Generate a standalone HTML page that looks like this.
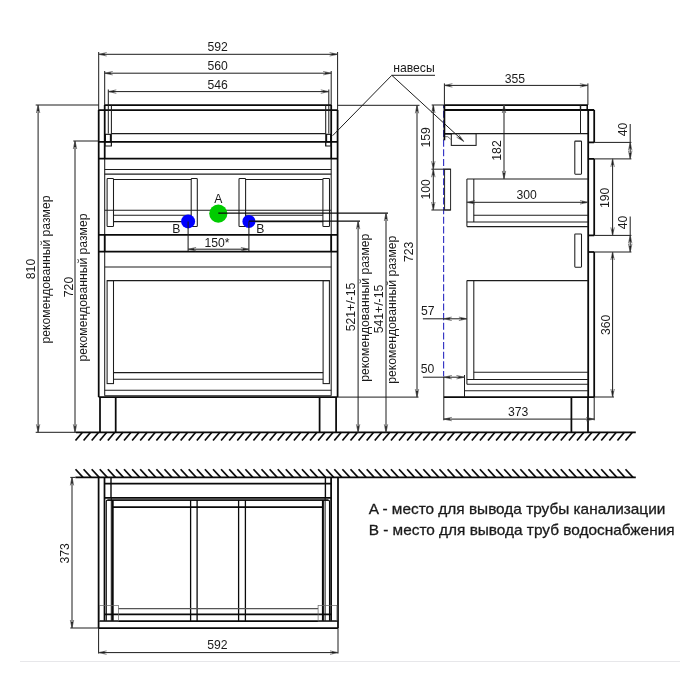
<!DOCTYPE html>
<html lang="ru"><head><meta charset="utf-8"><title>Схема</title>
<style>html,body{margin:0;padding:0;background:#fff}svg{display:block;will-change:transform}text{font-family:"Liberation Sans",sans-serif;fill:#1a1a1a}</style>
</head><body>
<svg width="700" height="700" viewBox="0 0 700 700">
<rect width="700" height="700" fill="#fff"/>
<line x1="20" y1="661.5" x2="680" y2="661.5" stroke="#e7e7ea" stroke-width="1"/>
<line x1="104.7" y1="105" x2="331.2" y2="105" stroke="#0a0a0a" stroke-width="1.75"/>
<line x1="98.7" y1="110" x2="337.6" y2="110" stroke="#0a0a0a" stroke-width="1.75"/>
<line x1="98.7" y1="110" x2="98.7" y2="397.1" stroke="#0a0a0a" stroke-width="1.75"/>
<line x1="337.6" y1="110" x2="337.6" y2="397.1" stroke="#0a0a0a" stroke-width="1.75"/>
<line x1="104.7" y1="105" x2="104.7" y2="158.6" stroke="#0a0a0a" stroke-width="1.75"/>
<line x1="331.2" y1="105" x2="331.2" y2="158.6" stroke="#0a0a0a" stroke-width="1.75"/>
<line x1="104.7" y1="158.6" x2="104.7" y2="395.7" stroke="#1c1c1c" stroke-width="1.05"/>
<line x1="331.2" y1="158.6" x2="331.2" y2="395.7" stroke="#1c1c1c" stroke-width="1.05"/>
<line x1="104.7" y1="234.8" x2="104.7" y2="251.5" stroke="#0a0a0a" stroke-width="1.75"/>
<line x1="331.2" y1="234.8" x2="331.2" y2="251.5" stroke="#0a0a0a" stroke-width="1.75"/>
<line x1="111.4" y1="105" x2="111.4" y2="146" stroke="#1c1c1c" stroke-width="1.05"/>
<line x1="325.7" y1="105" x2="325.7" y2="146" stroke="#1c1c1c" stroke-width="1.05"/>
<line x1="111.4" y1="133.6" x2="325.7" y2="133.6" stroke="#1c1c1c" stroke-width="1.05"/>
<rect x="105.4" y="134.3" width="5.0" height="7.3" fill="none" stroke="#0a0a0a" stroke-width="1.1"/>
<rect x="326.6" y="134.3" width="4.1" height="7.3" fill="none" stroke="#0a0a0a" stroke-width="1.1"/>
<rect x="105" y="141.9" width="6.4" height="4.1" fill="none" stroke="#1c1c1c" stroke-width="1.05"/>
<rect x="325.7" y="141.9" width="5.3" height="4.1" fill="none" stroke="#1c1c1c" stroke-width="1.05"/>
<line x1="98.7" y1="141.9" x2="337.6" y2="141.9" stroke="#0a0a0a" stroke-width="1.75"/>
<line x1="98.7" y1="158.6" x2="337.6" y2="158.6" stroke="#0a0a0a" stroke-width="1.75"/>
<line x1="104.7" y1="169.5" x2="331.2" y2="169.5" stroke="#1c1c1c" stroke-width="1.05"/>
<line x1="104.7" y1="174.1" x2="331.2" y2="174.1" stroke="#1c1c1c" stroke-width="1.05"/>
<rect x="107.1" y="178.4" width="6.4" height="48.1" fill="none" stroke="#1c1c1c" stroke-width="1.05" rx="0.8"/>
<rect x="191.2" y="178.4" width="6.1" height="48.1" fill="none" stroke="#1c1c1c" stroke-width="1.05" rx="0.8"/>
<line x1="113.5" y1="179.5" x2="191.2" y2="179.5" stroke="#1c1c1c" stroke-width="1.05"/>
<line x1="113.5" y1="215.2" x2="191.2" y2="215.2" stroke="#1c1c1c" stroke-width="1.05"/>
<line x1="113.5" y1="221.6" x2="191.2" y2="221.6" stroke="#1c1c1c" stroke-width="1.05"/>
<rect x="239" y="178.4" width="6.6" height="48.1" fill="none" stroke="#1c1c1c" stroke-width="1.05" rx="0.8"/>
<rect x="322.9" y="178.4" width="6.6" height="48.1" fill="none" stroke="#1c1c1c" stroke-width="1.05" rx="0.8"/>
<line x1="245.6" y1="179.5" x2="322.9" y2="179.5" stroke="#1c1c1c" stroke-width="1.05"/>
<line x1="245.6" y1="215.2" x2="322.9" y2="215.2" stroke="#1c1c1c" stroke-width="1.05"/>
<line x1="245.6" y1="221.6" x2="322.9" y2="221.6" stroke="#1c1c1c" stroke-width="1.05"/>
<line x1="104.7" y1="210.3" x2="331.2" y2="210.3" stroke="#1c1c1c" stroke-width="1.05"/>
<line x1="98.7" y1="234.8" x2="337.6" y2="234.8" stroke="#0a0a0a" stroke-width="1.75"/>
<line x1="98.7" y1="251.5" x2="337.6" y2="251.5" stroke="#0a0a0a" stroke-width="1.75"/>
<line x1="104.7" y1="266.9" x2="331.2" y2="266.9" stroke="#1c1c1c" stroke-width="1.05"/>
<line x1="107.1" y1="280.6" x2="329.4" y2="280.6" stroke="#1c1c1c" stroke-width="1.05"/>
<rect x="107.1" y="280.6" width="6.4" height="103.0" fill="none" stroke="#1c1c1c" stroke-width="1.05"/>
<rect x="323.1" y="280.6" width="6.3" height="103.0" fill="none" stroke="#1c1c1c" stroke-width="1.05"/>
<line x1="113.5" y1="372.6" x2="323.1" y2="372.6" stroke="#1c1c1c" stroke-width="1.05"/>
<line x1="113.5" y1="379.3" x2="323.1" y2="379.3" stroke="#1c1c1c" stroke-width="1.05"/>
<line x1="104.7" y1="390.3" x2="331.2" y2="390.3" stroke="#1c1c1c" stroke-width="1.05"/>
<line x1="104.7" y1="395.7" x2="331.2" y2="395.7" stroke="#1c1c1c" stroke-width="1.05"/>
<line x1="98.7" y1="397" x2="337.6" y2="397" stroke="#0a0a0a" stroke-width="1.75"/>
<line x1="100" y1="397" x2="100" y2="432.3" stroke="#0a0a0a" stroke-width="1.75"/>
<line x1="115.7" y1="397" x2="115.7" y2="432.3" stroke="#0a0a0a" stroke-width="1.75"/>
<line x1="319.6" y1="397" x2="319.6" y2="432.3" stroke="#0a0a0a" stroke-width="1.75"/>
<line x1="336.1" y1="397" x2="336.1" y2="432.3" stroke="#0a0a0a" stroke-width="1.75"/>
<line x1="35.7" y1="432.3" x2="76" y2="432.3" stroke="#1c1c1c" stroke-width="1.0"/>
<line x1="76" y1="432.3" x2="635.8" y2="432.3" stroke="#0a0a0a" stroke-width="1.75"/>
<line x1="82.5" y1="432.3" x2="75.5" y2="440.5" stroke="#0a0a0a" stroke-width="1.7"/>
<line x1="90.59" y1="432.3" x2="83.59" y2="440.5" stroke="#0a0a0a" stroke-width="1.7"/>
<line x1="98.68" y1="432.3" x2="91.68" y2="440.5" stroke="#0a0a0a" stroke-width="1.7"/>
<line x1="106.76" y1="432.3" x2="99.76" y2="440.5" stroke="#0a0a0a" stroke-width="1.7"/>
<line x1="114.85" y1="432.3" x2="107.85" y2="440.5" stroke="#0a0a0a" stroke-width="1.7"/>
<line x1="122.94" y1="432.3" x2="115.94" y2="440.5" stroke="#0a0a0a" stroke-width="1.7"/>
<line x1="131.03" y1="432.3" x2="124.03" y2="440.5" stroke="#0a0a0a" stroke-width="1.7"/>
<line x1="139.12" y1="432.3" x2="132.12" y2="440.5" stroke="#0a0a0a" stroke-width="1.7"/>
<line x1="147.2" y1="432.3" x2="140.2" y2="440.5" stroke="#0a0a0a" stroke-width="1.7"/>
<line x1="155.29" y1="432.3" x2="148.29" y2="440.5" stroke="#0a0a0a" stroke-width="1.7"/>
<line x1="163.38" y1="432.3" x2="156.38" y2="440.5" stroke="#0a0a0a" stroke-width="1.7"/>
<line x1="171.47" y1="432.3" x2="164.47" y2="440.5" stroke="#0a0a0a" stroke-width="1.7"/>
<line x1="179.56" y1="432.3" x2="172.56" y2="440.5" stroke="#0a0a0a" stroke-width="1.7"/>
<line x1="187.64" y1="432.3" x2="180.64" y2="440.5" stroke="#0a0a0a" stroke-width="1.7"/>
<line x1="195.73" y1="432.3" x2="188.73" y2="440.5" stroke="#0a0a0a" stroke-width="1.7"/>
<line x1="203.82" y1="432.3" x2="196.82" y2="440.5" stroke="#0a0a0a" stroke-width="1.7"/>
<line x1="211.91" y1="432.3" x2="204.91" y2="440.5" stroke="#0a0a0a" stroke-width="1.7"/>
<line x1="220.0" y1="432.3" x2="213.0" y2="440.5" stroke="#0a0a0a" stroke-width="1.7"/>
<line x1="228.08" y1="432.3" x2="221.08" y2="440.5" stroke="#0a0a0a" stroke-width="1.7"/>
<line x1="236.17" y1="432.3" x2="229.17" y2="440.5" stroke="#0a0a0a" stroke-width="1.7"/>
<line x1="244.26" y1="432.3" x2="237.26" y2="440.5" stroke="#0a0a0a" stroke-width="1.7"/>
<line x1="252.35" y1="432.3" x2="245.35" y2="440.5" stroke="#0a0a0a" stroke-width="1.7"/>
<line x1="260.44" y1="432.3" x2="253.44" y2="440.5" stroke="#0a0a0a" stroke-width="1.7"/>
<line x1="268.52" y1="432.3" x2="261.52" y2="440.5" stroke="#0a0a0a" stroke-width="1.7"/>
<line x1="276.61" y1="432.3" x2="269.61" y2="440.5" stroke="#0a0a0a" stroke-width="1.7"/>
<line x1="284.7" y1="432.3" x2="277.7" y2="440.5" stroke="#0a0a0a" stroke-width="1.7"/>
<line x1="292.79" y1="432.3" x2="285.79" y2="440.5" stroke="#0a0a0a" stroke-width="1.7"/>
<line x1="300.88" y1="432.3" x2="293.88" y2="440.5" stroke="#0a0a0a" stroke-width="1.7"/>
<line x1="308.96" y1="432.3" x2="301.96" y2="440.5" stroke="#0a0a0a" stroke-width="1.7"/>
<line x1="317.05" y1="432.3" x2="310.05" y2="440.5" stroke="#0a0a0a" stroke-width="1.7"/>
<line x1="325.14" y1="432.3" x2="318.14" y2="440.5" stroke="#0a0a0a" stroke-width="1.7"/>
<line x1="333.23" y1="432.3" x2="326.23" y2="440.5" stroke="#0a0a0a" stroke-width="1.7"/>
<line x1="341.32" y1="432.3" x2="334.32" y2="440.5" stroke="#0a0a0a" stroke-width="1.7"/>
<line x1="349.4" y1="432.3" x2="342.4" y2="440.5" stroke="#0a0a0a" stroke-width="1.7"/>
<line x1="357.49" y1="432.3" x2="350.49" y2="440.5" stroke="#0a0a0a" stroke-width="1.7"/>
<line x1="365.58" y1="432.3" x2="358.58" y2="440.5" stroke="#0a0a0a" stroke-width="1.7"/>
<line x1="373.67" y1="432.3" x2="366.67" y2="440.5" stroke="#0a0a0a" stroke-width="1.7"/>
<line x1="381.76" y1="432.3" x2="374.76" y2="440.5" stroke="#0a0a0a" stroke-width="1.7"/>
<line x1="389.84" y1="432.3" x2="382.84" y2="440.5" stroke="#0a0a0a" stroke-width="1.7"/>
<line x1="397.93" y1="432.3" x2="390.93" y2="440.5" stroke="#0a0a0a" stroke-width="1.7"/>
<line x1="406.02" y1="432.3" x2="399.02" y2="440.5" stroke="#0a0a0a" stroke-width="1.7"/>
<line x1="414.11" y1="432.3" x2="407.11" y2="440.5" stroke="#0a0a0a" stroke-width="1.7"/>
<line x1="422.2" y1="432.3" x2="415.2" y2="440.5" stroke="#0a0a0a" stroke-width="1.7"/>
<line x1="430.28" y1="432.3" x2="423.28" y2="440.5" stroke="#0a0a0a" stroke-width="1.7"/>
<line x1="438.37" y1="432.3" x2="431.37" y2="440.5" stroke="#0a0a0a" stroke-width="1.7"/>
<line x1="446.46" y1="432.3" x2="439.46" y2="440.5" stroke="#0a0a0a" stroke-width="1.7"/>
<line x1="454.55" y1="432.3" x2="447.55" y2="440.5" stroke="#0a0a0a" stroke-width="1.7"/>
<line x1="462.64" y1="432.3" x2="455.64" y2="440.5" stroke="#0a0a0a" stroke-width="1.7"/>
<line x1="470.72" y1="432.3" x2="463.72" y2="440.5" stroke="#0a0a0a" stroke-width="1.7"/>
<line x1="478.81" y1="432.3" x2="471.81" y2="440.5" stroke="#0a0a0a" stroke-width="1.7"/>
<line x1="486.9" y1="432.3" x2="479.9" y2="440.5" stroke="#0a0a0a" stroke-width="1.7"/>
<line x1="494.99" y1="432.3" x2="487.99" y2="440.5" stroke="#0a0a0a" stroke-width="1.7"/>
<line x1="503.08" y1="432.3" x2="496.08" y2="440.5" stroke="#0a0a0a" stroke-width="1.7"/>
<line x1="511.16" y1="432.3" x2="504.16" y2="440.5" stroke="#0a0a0a" stroke-width="1.7"/>
<line x1="519.25" y1="432.3" x2="512.25" y2="440.5" stroke="#0a0a0a" stroke-width="1.7"/>
<line x1="527.34" y1="432.3" x2="520.34" y2="440.5" stroke="#0a0a0a" stroke-width="1.7"/>
<line x1="535.43" y1="432.3" x2="528.43" y2="440.5" stroke="#0a0a0a" stroke-width="1.7"/>
<line x1="543.52" y1="432.3" x2="536.52" y2="440.5" stroke="#0a0a0a" stroke-width="1.7"/>
<line x1="551.6" y1="432.3" x2="544.6" y2="440.5" stroke="#0a0a0a" stroke-width="1.7"/>
<line x1="559.69" y1="432.3" x2="552.69" y2="440.5" stroke="#0a0a0a" stroke-width="1.7"/>
<line x1="567.78" y1="432.3" x2="560.78" y2="440.5" stroke="#0a0a0a" stroke-width="1.7"/>
<line x1="575.87" y1="432.3" x2="568.87" y2="440.5" stroke="#0a0a0a" stroke-width="1.7"/>
<line x1="583.96" y1="432.3" x2="576.96" y2="440.5" stroke="#0a0a0a" stroke-width="1.7"/>
<line x1="592.04" y1="432.3" x2="585.04" y2="440.5" stroke="#0a0a0a" stroke-width="1.7"/>
<line x1="600.13" y1="432.3" x2="593.13" y2="440.5" stroke="#0a0a0a" stroke-width="1.7"/>
<line x1="608.22" y1="432.3" x2="601.22" y2="440.5" stroke="#0a0a0a" stroke-width="1.7"/>
<line x1="616.31" y1="432.3" x2="609.31" y2="440.5" stroke="#0a0a0a" stroke-width="1.7"/>
<line x1="624.4" y1="432.3" x2="617.4" y2="440.5" stroke="#0a0a0a" stroke-width="1.7"/>
<line x1="632.48" y1="432.3" x2="625.48" y2="440.5" stroke="#0a0a0a" stroke-width="1.7"/>
<line x1="70.3" y1="477.4" x2="75.4" y2="477.4" stroke="#1c1c1c" stroke-width="1.0"/>
<line x1="75.4" y1="477.4" x2="635.8" y2="477.4" stroke="#0a0a0a" stroke-width="1.75"/>
<line x1="75.5" y1="469.2" x2="83.0" y2="477.4" stroke="#0a0a0a" stroke-width="1.7"/>
<line x1="83.59" y1="469.2" x2="91.09" y2="477.4" stroke="#0a0a0a" stroke-width="1.7"/>
<line x1="91.68" y1="469.2" x2="99.18" y2="477.4" stroke="#0a0a0a" stroke-width="1.7"/>
<line x1="99.76" y1="469.2" x2="107.26" y2="477.4" stroke="#0a0a0a" stroke-width="1.7"/>
<line x1="107.85" y1="469.2" x2="115.35" y2="477.4" stroke="#0a0a0a" stroke-width="1.7"/>
<line x1="115.94" y1="469.2" x2="123.44" y2="477.4" stroke="#0a0a0a" stroke-width="1.7"/>
<line x1="124.03" y1="469.2" x2="131.53" y2="477.4" stroke="#0a0a0a" stroke-width="1.7"/>
<line x1="132.12" y1="469.2" x2="139.62" y2="477.4" stroke="#0a0a0a" stroke-width="1.7"/>
<line x1="140.2" y1="469.2" x2="147.7" y2="477.4" stroke="#0a0a0a" stroke-width="1.7"/>
<line x1="148.29" y1="469.2" x2="155.79" y2="477.4" stroke="#0a0a0a" stroke-width="1.7"/>
<line x1="156.38" y1="469.2" x2="163.88" y2="477.4" stroke="#0a0a0a" stroke-width="1.7"/>
<line x1="164.47" y1="469.2" x2="171.97" y2="477.4" stroke="#0a0a0a" stroke-width="1.7"/>
<line x1="172.56" y1="469.2" x2="180.06" y2="477.4" stroke="#0a0a0a" stroke-width="1.7"/>
<line x1="180.64" y1="469.2" x2="188.14" y2="477.4" stroke="#0a0a0a" stroke-width="1.7"/>
<line x1="188.73" y1="469.2" x2="196.23" y2="477.4" stroke="#0a0a0a" stroke-width="1.7"/>
<line x1="196.82" y1="469.2" x2="204.32" y2="477.4" stroke="#0a0a0a" stroke-width="1.7"/>
<line x1="204.91" y1="469.2" x2="212.41" y2="477.4" stroke="#0a0a0a" stroke-width="1.7"/>
<line x1="213.0" y1="469.2" x2="220.5" y2="477.4" stroke="#0a0a0a" stroke-width="1.7"/>
<line x1="221.08" y1="469.2" x2="228.58" y2="477.4" stroke="#0a0a0a" stroke-width="1.7"/>
<line x1="229.17" y1="469.2" x2="236.67" y2="477.4" stroke="#0a0a0a" stroke-width="1.7"/>
<line x1="237.26" y1="469.2" x2="244.76" y2="477.4" stroke="#0a0a0a" stroke-width="1.7"/>
<line x1="245.35" y1="469.2" x2="252.85" y2="477.4" stroke="#0a0a0a" stroke-width="1.7"/>
<line x1="253.44" y1="469.2" x2="260.94" y2="477.4" stroke="#0a0a0a" stroke-width="1.7"/>
<line x1="261.52" y1="469.2" x2="269.02" y2="477.4" stroke="#0a0a0a" stroke-width="1.7"/>
<line x1="269.61" y1="469.2" x2="277.11" y2="477.4" stroke="#0a0a0a" stroke-width="1.7"/>
<line x1="277.7" y1="469.2" x2="285.2" y2="477.4" stroke="#0a0a0a" stroke-width="1.7"/>
<line x1="285.79" y1="469.2" x2="293.29" y2="477.4" stroke="#0a0a0a" stroke-width="1.7"/>
<line x1="293.88" y1="469.2" x2="301.38" y2="477.4" stroke="#0a0a0a" stroke-width="1.7"/>
<line x1="301.96" y1="469.2" x2="309.46" y2="477.4" stroke="#0a0a0a" stroke-width="1.7"/>
<line x1="310.05" y1="469.2" x2="317.55" y2="477.4" stroke="#0a0a0a" stroke-width="1.7"/>
<line x1="318.14" y1="469.2" x2="325.64" y2="477.4" stroke="#0a0a0a" stroke-width="1.7"/>
<line x1="326.23" y1="469.2" x2="333.73" y2="477.4" stroke="#0a0a0a" stroke-width="1.7"/>
<line x1="334.32" y1="469.2" x2="341.82" y2="477.4" stroke="#0a0a0a" stroke-width="1.7"/>
<line x1="342.4" y1="469.2" x2="349.9" y2="477.4" stroke="#0a0a0a" stroke-width="1.7"/>
<line x1="350.49" y1="469.2" x2="357.99" y2="477.4" stroke="#0a0a0a" stroke-width="1.7"/>
<line x1="358.58" y1="469.2" x2="366.08" y2="477.4" stroke="#0a0a0a" stroke-width="1.7"/>
<line x1="366.67" y1="469.2" x2="374.17" y2="477.4" stroke="#0a0a0a" stroke-width="1.7"/>
<line x1="374.76" y1="469.2" x2="382.26" y2="477.4" stroke="#0a0a0a" stroke-width="1.7"/>
<line x1="382.84" y1="469.2" x2="390.34" y2="477.4" stroke="#0a0a0a" stroke-width="1.7"/>
<line x1="390.93" y1="469.2" x2="398.43" y2="477.4" stroke="#0a0a0a" stroke-width="1.7"/>
<line x1="399.02" y1="469.2" x2="406.52" y2="477.4" stroke="#0a0a0a" stroke-width="1.7"/>
<line x1="407.11" y1="469.2" x2="414.61" y2="477.4" stroke="#0a0a0a" stroke-width="1.7"/>
<line x1="415.2" y1="469.2" x2="422.7" y2="477.4" stroke="#0a0a0a" stroke-width="1.7"/>
<line x1="423.28" y1="469.2" x2="430.78" y2="477.4" stroke="#0a0a0a" stroke-width="1.7"/>
<line x1="431.37" y1="469.2" x2="438.87" y2="477.4" stroke="#0a0a0a" stroke-width="1.7"/>
<line x1="439.46" y1="469.2" x2="446.96" y2="477.4" stroke="#0a0a0a" stroke-width="1.7"/>
<line x1="447.55" y1="469.2" x2="455.05" y2="477.4" stroke="#0a0a0a" stroke-width="1.7"/>
<line x1="455.64" y1="469.2" x2="463.14" y2="477.4" stroke="#0a0a0a" stroke-width="1.7"/>
<line x1="463.72" y1="469.2" x2="471.22" y2="477.4" stroke="#0a0a0a" stroke-width="1.7"/>
<line x1="471.81" y1="469.2" x2="479.31" y2="477.4" stroke="#0a0a0a" stroke-width="1.7"/>
<line x1="479.9" y1="469.2" x2="487.4" y2="477.4" stroke="#0a0a0a" stroke-width="1.7"/>
<line x1="487.99" y1="469.2" x2="495.49" y2="477.4" stroke="#0a0a0a" stroke-width="1.7"/>
<line x1="496.08" y1="469.2" x2="503.58" y2="477.4" stroke="#0a0a0a" stroke-width="1.7"/>
<line x1="504.16" y1="469.2" x2="511.66" y2="477.4" stroke="#0a0a0a" stroke-width="1.7"/>
<line x1="512.25" y1="469.2" x2="519.75" y2="477.4" stroke="#0a0a0a" stroke-width="1.7"/>
<line x1="520.34" y1="469.2" x2="527.84" y2="477.4" stroke="#0a0a0a" stroke-width="1.7"/>
<line x1="528.43" y1="469.2" x2="535.93" y2="477.4" stroke="#0a0a0a" stroke-width="1.7"/>
<line x1="536.52" y1="469.2" x2="544.02" y2="477.4" stroke="#0a0a0a" stroke-width="1.7"/>
<line x1="544.6" y1="469.2" x2="552.1" y2="477.4" stroke="#0a0a0a" stroke-width="1.7"/>
<line x1="552.69" y1="469.2" x2="560.19" y2="477.4" stroke="#0a0a0a" stroke-width="1.7"/>
<line x1="560.78" y1="469.2" x2="568.28" y2="477.4" stroke="#0a0a0a" stroke-width="1.7"/>
<line x1="568.87" y1="469.2" x2="576.37" y2="477.4" stroke="#0a0a0a" stroke-width="1.7"/>
<line x1="576.96" y1="469.2" x2="584.46" y2="477.4" stroke="#0a0a0a" stroke-width="1.7"/>
<line x1="585.04" y1="469.2" x2="592.54" y2="477.4" stroke="#0a0a0a" stroke-width="1.7"/>
<line x1="593.13" y1="469.2" x2="600.63" y2="477.4" stroke="#0a0a0a" stroke-width="1.7"/>
<line x1="601.22" y1="469.2" x2="608.72" y2="477.4" stroke="#0a0a0a" stroke-width="1.7"/>
<line x1="609.31" y1="469.2" x2="616.81" y2="477.4" stroke="#0a0a0a" stroke-width="1.7"/>
<line x1="617.4" y1="469.2" x2="624.9" y2="477.4" stroke="#0a0a0a" stroke-width="1.7"/>
<line x1="625.48" y1="469.2" x2="632.98" y2="477.4" stroke="#0a0a0a" stroke-width="1.7"/>
<circle cx="188.1" cy="221.4" r="7" fill="#0000ff"/>
<circle cx="218.3" cy="213.6" r="9.1" fill="#00cc00"/>
<circle cx="248.9" cy="221.4" r="6.5" fill="#0000ff"/>
<line x1="188.1" y1="221.4" x2="188.1" y2="251" stroke="#1c1c1c" stroke-width="1.05"/>
<line x1="248.9" y1="221.4" x2="248.9" y2="251" stroke="#1c1c1c" stroke-width="1.05"/>
<line x1="188.1" y1="249.2" x2="248.9" y2="249.2" stroke="#1c1c1c" stroke-width="1.0"/>
<path d="M196.1 247.5L188.1 249.2L196.1 250.9" fill="none" stroke="#444" stroke-width="0.7"/>
<path d="M194.1 248.2L189.3 249.2L194.1 250.2Z" fill="#1c1c1c"/>
<path d="M240.9 250.9L248.9 249.2L240.9 247.5" fill="none" stroke="#444" stroke-width="0.7"/>
<path d="M242.9 250.2L247.7 249.2L242.9 248.2Z" fill="#1c1c1c"/>
<line x1="218.3" y1="213.1" x2="388" y2="213.1" stroke="#0a0a0a" stroke-width="1.15"/>
<line x1="248.9" y1="221.2" x2="360" y2="221.2" stroke="#0a0a0a" stroke-width="1.2"/>
<text x="218.2" y="202.5" font-size="12.2" text-anchor="middle">A</text>
<text x="176.2" y="233.1" font-size="12.2" text-anchor="middle">B</text>
<text x="260.3" y="233.1" font-size="12.2" text-anchor="middle">B</text>
<text x="217" y="246.5" font-size="12.2" text-anchor="middle">150*</text>
<line x1="98.7" y1="52" x2="98.7" y2="110" stroke="#1c1c1c" stroke-width="1.0"/>
<line x1="337.6" y1="52" x2="337.6" y2="110" stroke="#1c1c1c" stroke-width="1.0"/>
<line x1="98.7" y1="54.3" x2="337.6" y2="54.3" stroke="#1c1c1c" stroke-width="1.0"/>
<path d="M106.7 52.6L98.7 54.3L106.7 56.0" fill="none" stroke="#444" stroke-width="0.7"/>
<path d="M104.7 53.3L99.9 54.3L104.7 55.3Z" fill="#1c1c1c"/>
<path d="M329.6 56.0L337.6 54.3L329.6 52.6" fill="none" stroke="#444" stroke-width="0.7"/>
<path d="M331.6 55.3L336.4 54.3L331.6 53.3Z" fill="#1c1c1c"/>
<text x="217.6" y="51.2" font-size="12.2" text-anchor="middle">592</text>
<line x1="104.7" y1="71" x2="104.7" y2="105" stroke="#1c1c1c" stroke-width="1.0"/>
<line x1="331.2" y1="71" x2="331.2" y2="105" stroke="#1c1c1c" stroke-width="1.0"/>
<line x1="104.7" y1="73.2" x2="331.2" y2="73.2" stroke="#1c1c1c" stroke-width="1.0"/>
<path d="M112.7 71.5L104.7 73.2L112.7 74.9" fill="none" stroke="#444" stroke-width="0.7"/>
<path d="M110.7 72.2L105.9 73.2L110.7 74.2Z" fill="#1c1c1c"/>
<path d="M323.2 74.9L331.2 73.2L323.2 71.5" fill="none" stroke="#444" stroke-width="0.7"/>
<path d="M325.2 74.2L330.0 73.2L325.2 72.2Z" fill="#1c1c1c"/>
<text x="217.6" y="70" font-size="12.2" text-anchor="middle">560</text>
<line x1="108.3" y1="89.5" x2="108.3" y2="133.6" stroke="#1c1c1c" stroke-width="1.0"/>
<line x1="328.8" y1="89.5" x2="328.8" y2="133.6" stroke="#1c1c1c" stroke-width="1.0"/>
<line x1="108.3" y1="91.6" x2="328.8" y2="91.6" stroke="#1c1c1c" stroke-width="1.0"/>
<path d="M116.3 89.9L108.3 91.6L116.3 93.3" fill="none" stroke="#444" stroke-width="0.7"/>
<path d="M114.3 90.6L109.5 91.6L114.3 92.6Z" fill="#1c1c1c"/>
<path d="M320.8 93.3L328.8 91.6L320.8 89.9" fill="none" stroke="#444" stroke-width="0.7"/>
<path d="M322.8 92.6L327.6 91.6L322.8 90.6Z" fill="#1c1c1c"/>
<text x="217.6" y="88.7" font-size="12.2" text-anchor="middle">546</text>
<line x1="35.7" y1="105" x2="98.7" y2="105" stroke="#1c1c1c" stroke-width="1.0"/>
<line x1="38.1" y1="105" x2="38.1" y2="432.3" stroke="#1c1c1c" stroke-width="1.0"/>
<path d="M39.8 113.0L38.1 105L36.4 113.0" fill="none" stroke="#444" stroke-width="0.7"/>
<path d="M39.1 111.0L38.1 106.2L37.1 111.0Z" fill="#1c1c1c"/>
<path d="M36.4 424.3L38.1 432.3L39.8 424.3" fill="none" stroke="#444" stroke-width="0.7"/>
<path d="M37.1 426.3L38.1 431.1L39.1 426.3Z" fill="#1c1c1c"/>
<line x1="73.3" y1="141" x2="98.7" y2="141" stroke="#1c1c1c" stroke-width="1.0"/>
<line x1="75" y1="141" x2="75" y2="432.3" stroke="#1c1c1c" stroke-width="1.0"/>
<path d="M76.7 149.0L75 141L73.3 149.0" fill="none" stroke="#444" stroke-width="0.7"/>
<path d="M76.0 147.0L75.0 142.2L74.0 147.0Z" fill="#1c1c1c"/>
<path d="M73.3 424.3L75 432.3L76.7 424.3" fill="none" stroke="#444" stroke-width="0.7"/>
<path d="M74.0 426.3L75.0 431.1L76.0 426.3Z" fill="#1c1c1c"/>
<text transform="translate(35.3 269) rotate(-90)" font-size="12.2" text-anchor="middle">810</text>
<text transform="translate(49.7 269.5) rotate(-90)" font-size="12.2" text-anchor="middle">рекомендованный размер</text>
<text transform="translate(72.5 287) rotate(-90)" font-size="12.2" text-anchor="middle">720</text>
<text transform="translate(86.6 287.5) rotate(-90)" font-size="12.2" text-anchor="middle">рекомендованный размер</text>
<line x1="358.1" y1="221.2" x2="358.1" y2="432.3" stroke="#1c1c1c" stroke-width="1.0"/>
<path d="M359.8 229.2L358.1 221.2L356.4 229.2" fill="none" stroke="#444" stroke-width="0.7"/>
<path d="M359.1 227.2L358.1 222.4L357.1 227.2Z" fill="#1c1c1c"/>
<path d="M356.4 424.3L358.1 432.3L359.8 424.3" fill="none" stroke="#444" stroke-width="0.7"/>
<path d="M357.1 426.3L358.1 431.1L359.1 426.3Z" fill="#1c1c1c"/>
<line x1="386" y1="213" x2="386" y2="432.3" stroke="#1c1c1c" stroke-width="1.0"/>
<path d="M387.7 221.0L386 213L384.3 221.0" fill="none" stroke="#444" stroke-width="0.7"/>
<path d="M387.0 219.0L386.0 214.2L385.0 219.0Z" fill="#1c1c1c"/>
<path d="M384.3 424.3L386 432.3L387.7 424.3" fill="none" stroke="#444" stroke-width="0.7"/>
<path d="M385.0 426.3L386.0 431.1L387.0 426.3Z" fill="#1c1c1c"/>
<text transform="translate(355 307) rotate(-90)" font-size="12.2" text-anchor="middle">521+/-15</text>
<text transform="translate(369 307.7) rotate(-90)" font-size="12.2" text-anchor="middle">рекомендованный размер</text>
<text transform="translate(383 309) rotate(-90)" font-size="12.2" text-anchor="middle">541+/-15</text>
<text transform="translate(396.4 309.7) rotate(-90)" font-size="12.2" text-anchor="middle">рекомендованный размер</text>
<line x1="337.6" y1="105.3" x2="419.5" y2="105.3" stroke="#1c1c1c" stroke-width="1.0"/>
<line x1="337.6" y1="397.1" x2="418.5" y2="397.1" stroke="#1c1c1c" stroke-width="1.0"/>
<line x1="417" y1="105.3" x2="417" y2="397.1" stroke="#1c1c1c" stroke-width="1.0"/>
<path d="M418.7 113.3L417 105.3L415.3 113.3" fill="none" stroke="#444" stroke-width="0.7"/>
<path d="M418.0 111.3L417.0 106.5L416.0 111.3Z" fill="#1c1c1c"/>
<path d="M415.3 389.1L417 397.1L418.7 389.1" fill="none" stroke="#444" stroke-width="0.7"/>
<path d="M416.0 391.1L417.0 395.9L418.0 391.1Z" fill="#1c1c1c"/>
<text transform="translate(413.3 251.8) rotate(-90)" font-size="12.2" text-anchor="middle">723</text>
<text x="393.2" y="72.4" font-size="12.2" text-anchor="start">навесы</text>
<line x1="391.8" y1="75.3" x2="435" y2="75.3" stroke="#1c1c1c" stroke-width="1.0"/>
<line x1="391.8" y1="75.3" x2="332.6" y2="135.7" stroke="#1c1c1c" stroke-width="1.0"/>
<line x1="391.8" y1="75.3" x2="463.6" y2="141.3" stroke="#1c1c1c" stroke-width="1.0"/>
<path d="M456.56 137.14L463.6 141.3L458.86 134.63" fill="none" stroke="#444" stroke-width="0.7"/>
<path d="M458.51 137.98L462.72 140.49L459.86 136.5Z" fill="#1c1c1c"/>
<line x1="443.6" y1="105" x2="443.6" y2="376.4" stroke="#3434c4" stroke-width="1.15" stroke-dasharray="7.1 2.54" stroke-dashoffset="3.96"/>
<line x1="444.4" y1="105" x2="587.9" y2="105" stroke="#0a0a0a" stroke-width="1.75"/>
<line x1="444.4" y1="110" x2="594.2" y2="110" stroke="#0a0a0a" stroke-width="1.8"/>
<line x1="444.4" y1="105" x2="444.4" y2="140.3" stroke="#0a0a0a" stroke-width="1.75"/>
<path d="M445 136.7H447.8L450.6 139.2" fill="none" stroke="#444" stroke-width="0.8"/>
<line x1="444.4" y1="133.6" x2="588" y2="133.6" stroke="#1c1c1c" stroke-width="1.05"/>
<line x1="444.4" y1="133.9" x2="451.3" y2="133.9" stroke="#0a0a0a" stroke-width="1.4"/>
<rect x="451.3" y="133.6" width="24.8" height="11.8" fill="none" stroke="#1c1c1c" stroke-width="1.05"/>
<line x1="588.2" y1="110" x2="588.2" y2="397.0" stroke="#0a0a0a" stroke-width="1.8"/>
<line x1="587.2" y1="105" x2="587.2" y2="110" stroke="#0a0a0a" stroke-width="1.5"/>
<line x1="580.5" y1="105" x2="580.5" y2="110" stroke="#0a0a0a" stroke-width="1.4"/>
<line x1="594.2" y1="110" x2="594.2" y2="142.4" stroke="#0a0a0a" stroke-width="1.75"/>
<line x1="594.2" y1="158.9" x2="594.2" y2="235.4" stroke="#0a0a0a" stroke-width="1.75"/>
<line x1="594.2" y1="252" x2="594.2" y2="397.0" stroke="#0a0a0a" stroke-width="1.75"/>
<line x1="588.2" y1="142.4" x2="594.2" y2="142.4" stroke="#0a0a0a" stroke-width="1.75"/>
<line x1="594.2" y1="142.4" x2="631.4" y2="142.4" stroke="#1c1c1c" stroke-width="1.0"/>
<line x1="588.2" y1="158.9" x2="594.2" y2="158.9" stroke="#0a0a0a" stroke-width="1.75"/>
<line x1="594.2" y1="158.9" x2="631.4" y2="158.9" stroke="#1c1c1c" stroke-width="1.0"/>
<line x1="588.2" y1="235.4" x2="594.2" y2="235.4" stroke="#0a0a0a" stroke-width="1.75"/>
<line x1="594.2" y1="235.4" x2="631.4" y2="235.4" stroke="#1c1c1c" stroke-width="1.0"/>
<line x1="588.2" y1="252" x2="594.2" y2="252" stroke="#0a0a0a" stroke-width="1.75"/>
<line x1="594.2" y1="252" x2="631.4" y2="252" stroke="#1c1c1c" stroke-width="1.0"/>
<line x1="580.5" y1="105" x2="580.5" y2="133.5" stroke="#1c1c1c" stroke-width="1.05"/>
<rect x="574.8" y="141.1" width="6.7" height="33.1" fill="none" stroke="#1c1c1c" stroke-width="1.05" rx="0.6"/>
<rect x="574.8" y="234" width="6.7" height="33.2" fill="none" stroke="#1c1c1c" stroke-width="1.05" rx="0.6"/>
<line x1="466.9" y1="178.9" x2="588" y2="178.9" stroke="#1c1c1c" stroke-width="1.05"/>
<line x1="466.9" y1="178.9" x2="466.9" y2="226.6" stroke="#1c1c1c" stroke-width="1.05"/>
<line x1="473.8" y1="178.9" x2="473.8" y2="222" stroke="#1c1c1c" stroke-width="1.05"/>
<line x1="473.8" y1="215.2" x2="588" y2="215.2" stroke="#1c1c1c" stroke-width="1.05"/>
<line x1="466.9" y1="222" x2="588" y2="222" stroke="#1c1c1c" stroke-width="1.05"/>
<line x1="466.9" y1="226.6" x2="588" y2="226.6" stroke="#1c1c1c" stroke-width="1.05"/>
<line x1="466.9" y1="202.3" x2="588" y2="202.3" stroke="#1c1c1c" stroke-width="1.0"/>
<path d="M474.9 200.6L466.9 202.3L474.9 204.0" fill="none" stroke="#444" stroke-width="0.7"/>
<path d="M472.9 201.3L468.1 202.3L472.9 203.3Z" fill="#1c1c1c"/>
<path d="M580.0 204.0L588 202.3L580.0 200.6" fill="none" stroke="#444" stroke-width="0.7"/>
<path d="M582.0 203.3L586.8 202.3L582.0 201.3Z" fill="#1c1c1c"/>
<text x="526.6" y="198.9" font-size="12.2" text-anchor="middle">300</text>
<line x1="504" y1="105" x2="504" y2="178.9" stroke="#1c1c1c" stroke-width="1.0"/>
<path d="M505.7 113.0L504 105L502.3 113.0" fill="none" stroke="#444" stroke-width="0.7"/>
<path d="M505.0 111.0L504.0 106.2L503.0 111.0Z" fill="#1c1c1c"/>
<path d="M502.3 170.9L504 178.9L505.7 170.9" fill="none" stroke="#444" stroke-width="0.7"/>
<path d="M503.0 172.9L504.0 177.7L505.0 172.9Z" fill="#1c1c1c"/>
<text transform="translate(501.4 150.5) rotate(-90)" font-size="12.2" text-anchor="middle">182</text>
<line x1="466.9" y1="280.6" x2="588" y2="280.6" stroke="#1c1c1c" stroke-width="1.05"/>
<line x1="466.9" y1="280.6" x2="466.9" y2="384.3" stroke="#1c1c1c" stroke-width="1.05"/>
<line x1="473.8" y1="280.6" x2="473.8" y2="379.5" stroke="#1c1c1c" stroke-width="1.05"/>
<line x1="473.8" y1="372.3" x2="588" y2="372.3" stroke="#1c1c1c" stroke-width="1.05"/>
<line x1="466.9" y1="379.5" x2="588" y2="379.5" stroke="#1c1c1c" stroke-width="1.05"/>
<line x1="466.9" y1="384.3" x2="588" y2="384.3" stroke="#1c1c1c" stroke-width="1.05"/>
<line x1="464.5" y1="390.8" x2="588" y2="390.8" stroke="#1c1c1c" stroke-width="1.05"/>
<line x1="443.8" y1="397.0" x2="594.2" y2="397.0" stroke="#0a0a0a" stroke-width="1.75"/>
<line x1="464.5" y1="375" x2="464.5" y2="397.0" stroke="#1c1c1c" stroke-width="1.05"/>
<line x1="443.8" y1="377" x2="443.8" y2="420.3" stroke="#1c1c1c" stroke-width="1.0"/>
<line x1="571.4" y1="397.0" x2="571.4" y2="432.3" stroke="#0a0a0a" stroke-width="1.75"/>
<line x1="588" y1="397.0" x2="588" y2="432.3" stroke="#0a0a0a" stroke-width="1.75"/>
<line x1="594.2" y1="397.0" x2="594.2" y2="420.3" stroke="#1c1c1c" stroke-width="1.0"/>
<line x1="594.2" y1="397.0" x2="614" y2="397.0" stroke="#1c1c1c" stroke-width="1.0"/>
<line x1="443.8" y1="419.1" x2="594.2" y2="419.1" stroke="#1c1c1c" stroke-width="1.0"/>
<path d="M451.8 417.4L443.8 419.1L451.8 420.8" fill="none" stroke="#444" stroke-width="0.7"/>
<path d="M449.8 418.1L445.0 419.1L449.8 420.1Z" fill="#1c1c1c"/>
<path d="M586.2 420.8L594.2 419.1L586.2 417.4" fill="none" stroke="#444" stroke-width="0.7"/>
<path d="M588.2 420.1L593.0 419.1L588.2 418.1Z" fill="#1c1c1c"/>
<text x="518.2" y="416" font-size="12.2" text-anchor="middle">373</text>
<line x1="422.9" y1="318.8" x2="466.9" y2="318.8" stroke="#1c1c1c" stroke-width="1.0"/>
<path d="M451.7 317.1L443.7 318.8L451.7 320.5" fill="none" stroke="#444" stroke-width="0.7"/>
<path d="M449.7 317.8L444.9 318.8L449.7 319.8Z" fill="#1c1c1c"/>
<path d="M458.9 320.5L466.9 318.8L458.9 317.1" fill="none" stroke="#444" stroke-width="0.7"/>
<path d="M460.9 319.8L465.7 318.8L460.9 317.8Z" fill="#1c1c1c"/>
<text x="421" y="315.2" font-size="12.2" text-anchor="start">57</text>
<line x1="422.9" y1="377.2" x2="464.5" y2="377.2" stroke="#1c1c1c" stroke-width="1.0"/>
<path d="M451.8 375.5L443.8 377.2L451.8 378.9" fill="none" stroke="#444" stroke-width="0.7"/>
<path d="M449.8 376.2L445.0 377.2L449.8 378.2Z" fill="#1c1c1c"/>
<path d="M456.5 378.9L464.5 377.2L456.5 375.5" fill="none" stroke="#444" stroke-width="0.7"/>
<path d="M458.5 378.2L463.3 377.2L458.5 376.2Z" fill="#1c1c1c"/>
<text x="420.7" y="373.2" font-size="12.2" text-anchor="start">50</text>
<line x1="431.7" y1="105" x2="444.4" y2="105" stroke="#1c1c1c" stroke-width="1.0"/>
<line x1="431.4" y1="169.2" x2="450.6" y2="169.2" stroke="#1c1c1c" stroke-width="1.0"/>
<line x1="431.4" y1="210" x2="450.6" y2="210" stroke="#1c1c1c" stroke-width="1.0"/>
<rect x="444.6" y="169.2" width="6.0" height="40.8" fill="none" stroke="#1c1c1c" stroke-width="0.95"/>
<line x1="433.3" y1="105" x2="433.3" y2="169.2" stroke="#1c1c1c" stroke-width="1.0"/>
<path d="M435.0 113.0L433.3 105L431.6 113.0" fill="none" stroke="#444" stroke-width="0.7"/>
<path d="M434.3 111.0L433.3 106.2L432.3 111.0Z" fill="#1c1c1c"/>
<path d="M431.6 161.2L433.3 169.2L435.0 161.2" fill="none" stroke="#444" stroke-width="0.7"/>
<path d="M432.3 163.2L433.3 168.0L434.3 163.2Z" fill="#1c1c1c"/>
<line x1="433.3" y1="169.2" x2="433.3" y2="210" stroke="#1c1c1c" stroke-width="1.0"/>
<path d="M435.0 177.2L433.3 169.2L431.6 177.2" fill="none" stroke="#444" stroke-width="0.7"/>
<path d="M434.3 175.2L433.3 170.4L432.3 175.2Z" fill="#1c1c1c"/>
<path d="M431.6 202.0L433.3 210L435.0 202.0" fill="none" stroke="#444" stroke-width="0.7"/>
<path d="M432.3 204.0L433.3 208.8L434.3 204.0Z" fill="#1c1c1c"/>
<text transform="translate(430 137.4) rotate(-90)" font-size="12.2" text-anchor="middle">159</text>
<text transform="translate(430.2 189.4) rotate(-90)" font-size="12.2" text-anchor="middle">100</text>
<line x1="630.2" y1="124" x2="630.2" y2="158.9" stroke="#1c1c1c" stroke-width="1.0"/>
<path d="M631.9 150.4L630.2 142.4L628.5 150.4" fill="none" stroke="#444" stroke-width="0.7"/>
<path d="M631.2 148.4L630.2 143.6L629.2 148.4Z" fill="#1c1c1c"/>
<path d="M628.5 150.9L630.2 158.9L631.9 150.9" fill="none" stroke="#444" stroke-width="0.7"/>
<path d="M629.2 152.9L630.2 157.7L631.2 152.9Z" fill="#1c1c1c"/>
<text transform="translate(627 129.4) rotate(-90)" font-size="12.2" text-anchor="middle">40</text>
<line x1="612.6" y1="158.9" x2="612.6" y2="235.4" stroke="#1c1c1c" stroke-width="1.0"/>
<path d="M614.3 166.9L612.6 158.9L610.9 166.9" fill="none" stroke="#444" stroke-width="0.7"/>
<path d="M613.6 164.9L612.6 160.1L611.6 164.9Z" fill="#1c1c1c"/>
<path d="M610.9 227.4L612.6 235.4L614.3 227.4" fill="none" stroke="#444" stroke-width="0.7"/>
<path d="M611.6 229.4L612.6 234.2L613.6 229.4Z" fill="#1c1c1c"/>
<text transform="translate(609.1 197.9) rotate(-90)" font-size="12.2" text-anchor="middle">190</text>
<line x1="630.2" y1="216.5" x2="630.2" y2="252" stroke="#1c1c1c" stroke-width="1.0"/>
<path d="M631.9 243.4L630.2 235.4L628.5 243.4" fill="none" stroke="#444" stroke-width="0.7"/>
<path d="M631.2 241.4L630.2 236.6L629.2 241.4Z" fill="#1c1c1c"/>
<path d="M628.5 244.0L630.2 252L631.9 244.0" fill="none" stroke="#444" stroke-width="0.7"/>
<path d="M629.2 246.0L630.2 250.8L631.2 246.0Z" fill="#1c1c1c"/>
<text transform="translate(627 222.4) rotate(-90)" font-size="12.2" text-anchor="middle">40</text>
<line x1="612.6" y1="252" x2="612.6" y2="397.0" stroke="#1c1c1c" stroke-width="1.0"/>
<path d="M614.3 260.0L612.6 252L610.9 260.0" fill="none" stroke="#444" stroke-width="0.7"/>
<path d="M613.6 258.0L612.6 253.2L611.6 258.0Z" fill="#1c1c1c"/>
<path d="M610.9 389.0L612.6 397.0L614.3 389.0" fill="none" stroke="#444" stroke-width="0.7"/>
<path d="M611.6 391.0L612.6 395.8L613.6 391.0Z" fill="#1c1c1c"/>
<text transform="translate(609.7 324.8) rotate(-90)" font-size="12.2" text-anchor="middle">360</text>
<line x1="444.4" y1="83.4" x2="444.4" y2="105" stroke="#1c1c1c" stroke-width="1.0"/>
<line x1="587.9" y1="83.4" x2="587.9" y2="105" stroke="#1c1c1c" stroke-width="1.0"/>
<line x1="444.4" y1="85.4" x2="587.9" y2="85.4" stroke="#1c1c1c" stroke-width="1.0"/>
<path d="M452.4 83.7L444.4 85.4L452.4 87.1" fill="none" stroke="#444" stroke-width="0.7"/>
<path d="M450.4 84.4L445.6 85.4L450.4 86.4Z" fill="#1c1c1c"/>
<path d="M579.9 87.1L587.9 85.4L579.9 83.7" fill="none" stroke="#444" stroke-width="0.7"/>
<path d="M581.9 86.4L586.7 85.4L581.9 84.4Z" fill="#1c1c1c"/>
<text x="514.8" y="82.7" font-size="12.2" text-anchor="middle">355</text>
<line x1="98.6" y1="477.4" x2="98.6" y2="628" stroke="#0a0a0a" stroke-width="1.75"/>
<line x1="338" y1="477.4" x2="338" y2="628" stroke="#0a0a0a" stroke-width="1.75"/>
<line x1="104.5" y1="477.4" x2="104.5" y2="621.2" stroke="#0a0a0a" stroke-width="1.75"/>
<line x1="331.1" y1="477.4" x2="331.1" y2="621.2" stroke="#0a0a0a" stroke-width="1.75"/>
<line x1="111" y1="477.4" x2="111" y2="497.8" stroke="#0a0a0a" stroke-width="1.4"/>
<line x1="325.4" y1="477.4" x2="325.4" y2="497.8" stroke="#0a0a0a" stroke-width="1.4"/>
<line x1="111.3" y1="497.8" x2="111.3" y2="621.2" stroke="#1c1c1c" stroke-width="1.05"/>
<line x1="325.1" y1="497.8" x2="325.1" y2="621.2" stroke="#1c1c1c" stroke-width="1.05"/>
<line x1="104.5" y1="483.7" x2="331.1" y2="483.7" stroke="#0a0a0a" stroke-width="1.75"/>
<line x1="104.5" y1="497.8" x2="331.1" y2="497.8" stroke="#0a0a0a" stroke-width="1.75"/>
<path d="M106.3 621.2V501.6Q106.3 500.1 107.8 500.1H328Q329.5 500.1 329.5 501.6V621.2" fill="none" stroke="#0a0a0a" stroke-width="1.1"/>
<line x1="107.6" y1="500.1" x2="328.2" y2="500.1" stroke="#0a0a0a" stroke-width="1.45"/>
<line x1="112.7" y1="500.1" x2="112.7" y2="621.2" stroke="#0a0a0a" stroke-width="2"/>
<line x1="322.9" y1="500.1" x2="322.9" y2="621.2" stroke="#0a0a0a" stroke-width="2"/>
<line x1="112.7" y1="507.2" x2="322.9" y2="507.2" stroke="#0a0a0a" stroke-width="1.75"/>
<line x1="190.6" y1="500.1" x2="190.6" y2="621.2" stroke="#0a0a0a" stroke-width="1.3"/>
<line x1="197.1" y1="500.1" x2="197.1" y2="621.2" stroke="#0a0a0a" stroke-width="1.3"/>
<line x1="238.6" y1="500.1" x2="238.6" y2="621.2" stroke="#0a0a0a" stroke-width="1.3"/>
<line x1="245.4" y1="500.1" x2="245.4" y2="621.2" stroke="#0a0a0a" stroke-width="1.3"/>
<line x1="118.4" y1="608.6" x2="318.1" y2="608.6" stroke="#555" stroke-width="1.05"/>
<line x1="104.5" y1="614.4" x2="331.1" y2="614.4" stroke="#0a0a0a" stroke-width="1.75"/>
<line x1="98.6" y1="621.2" x2="338" y2="621.2" stroke="#0a0a0a" stroke-width="1.75"/>
<line x1="98.6" y1="628" x2="338" y2="628" stroke="#0a0a0a" stroke-width="1.75"/>
<rect x="99.5" y="605.6" width="18.9" height="15.6" fill="none" stroke="#666" stroke-width="0.7"/>
<rect x="318.1" y="605.6" width="18.8" height="15.6" fill="none" stroke="#666" stroke-width="0.7"/>
<line x1="70.3" y1="628" x2="98.6" y2="628" stroke="#1c1c1c" stroke-width="1.0"/>
<line x1="72" y1="477.4" x2="72" y2="628" stroke="#1c1c1c" stroke-width="1.0"/>
<path d="M73.7 485.4L72 477.4L70.3 485.4" fill="none" stroke="#444" stroke-width="0.7"/>
<path d="M73.0 483.4L72.0 478.6L71.0 483.4Z" fill="#1c1c1c"/>
<path d="M70.3 620.0L72 628L73.7 620.0" fill="none" stroke="#444" stroke-width="0.7"/>
<path d="M71.0 622.0L72.0 626.8L73.0 622.0Z" fill="#1c1c1c"/>
<text transform="translate(69.4 553.3) rotate(-90)" font-size="12.2" text-anchor="middle">373</text>
<line x1="98.6" y1="628" x2="98.6" y2="653.5" stroke="#1c1c1c" stroke-width="1.0"/>
<line x1="338" y1="628" x2="338" y2="653.5" stroke="#1c1c1c" stroke-width="1.0"/>
<line x1="98.6" y1="652.6" x2="338" y2="652.6" stroke="#1c1c1c" stroke-width="1.0"/>
<path d="M106.6 650.9L98.6 652.6L106.6 654.3" fill="none" stroke="#444" stroke-width="0.7"/>
<path d="M104.6 651.6L99.8 652.6L104.6 653.6Z" fill="#1c1c1c"/>
<path d="M330.0 654.3L338 652.6L330.0 650.9" fill="none" stroke="#444" stroke-width="0.7"/>
<path d="M332.0 653.6L336.8 652.6L332.0 651.6Z" fill="#1c1c1c"/>
<text x="217.3" y="649.1" font-size="12.2" text-anchor="middle">592</text>
<g stroke="#1a1a1a" stroke-width="0.3">
<text x="368.8" y="513.9" font-size="15.38" text-anchor="start">A - место для вывода трубы канализации</text>
<text x="368.7" y="535.2" font-size="15.38" text-anchor="start">B - место для вывода труб водоснабжения</text>
</g>
</svg>
</body></html>
